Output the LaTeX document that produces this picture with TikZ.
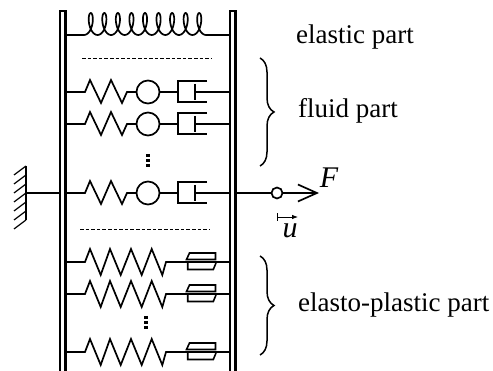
\documentclass[tikz,border=0pt]{standalone}
\usepackage{fontspec}
\setmainfont{Liberation Serif}
\usetikzlibrary{arrows.meta,decorations.pathreplacing}
\tikzset{
  label text/.style={anchor=west,inner sep=0pt,font=\fontsize{27}{27}\selectfont},
  symbol text/.style={inner sep=0pt,font=\fontsize{30}{30}\selectfont\itshape},
  part/.style={line width=1.7pt},
  bar/.style={line width=2.2pt},
  dash row/.style={line width=1.5pt,dash pattern=on 3.6pt off 2pt},
  dot col/.style={line width=3.2pt,dash pattern=on 3pt off 2pt},
  part brace/.style={line width=1.5pt,decorate,decoration={brace,amplitude=14pt}}
}
\begin{document}
\begin{tikzpicture}[x=1pt,y=-1pt]
  \useasboundingbox (0,0) rectangle (493,371);
  % walls of the frame
  \draw[bar] (60,371) -- (60,11) -- (65.5,11) -- (65.5,371);
  \draw[bar] (230,371) -- (230,11) -- (235.5,11) -- (235.5,371);
  % coil
  \draw[part] (66,35) -- (84,35)
      plot[domain=0:1,samples=260,smooth] ({84+\x*122+5*sin(\x*9*360)},{24+11*cos(\x*9*360)})
      -- (229,35);
  \draw[dash row] (82,58.5) -- (212,58.5);
  \draw[dash row] (80,229.5) -- (210,229.5);
  % viscous rows
  \foreach \r in {92,124,193}{
  \begin{scope}[shift={(0,\r)}]
    \draw[part] (66,0) -- (85,0) -- (90,-12) -- (101,11) -- (111,-12) -- (122,11) -- (127,0) -- (136.5,0);
    \draw[part] (148,0) circle (11.5);
    \draw[part] (159.5,0) -- (178,0);
    \draw[part] (207,-11) -- (178,-11) -- (178,10) -- (207,10);
    \draw[part] (195,-8) -- (195,8);
    \draw[part] (195,0) -- (229,0);
  \end{scope}
  }
  \draw[dot col] (148,154) -- (148,167);
  % plastic rows
  \foreach \r in {262,294,352}{
  \begin{scope}[shift={(0,\r)}]
    \draw[part] (66,0) -- (85,0) -- (90,-13) -- (100.7,13) -- (110,-13) -- (120.7,13) -- (131,-13)
        -- (141.7,13) -- (151.7,-13) -- (162.3,13) -- (166,0) -- (229,0);
    \draw[line width=1.6pt] (189.5,-9) -- (215.5,-9) -- (215.5,-2.5) -- (186.5,-2.5) -- cycle;
    \draw[line width=1.6pt] (187.7,1) -- (187.7,7.5) -- (213.3,7.5) -- (216,1);
  \end{scope}
  }
  \draw[dot col] (146,316) -- (146,329);
  % support
  \draw[part] (26,166) -- (26,220);
  \foreach \h in {166,175,...,220}
    \draw[line width=1.2pt] (26,\h) -- (14,\h+9);
  \draw[part] (26,193) -- (59,193);
  % load
  \coordinate (tip) at (319,193);
  \node[circle,draw,part,minimum size=11pt,inner sep=0pt] (hinge) at (277,193) {};
  \draw[part] (236.5,193) -- (hinge);
  \draw[part,-{Straight Barb[length=19pt,width=17pt]}] (hinge) -- (tip);
  \node[symbol text] (force) at (329,178) {F};
  \coordinate (ustart) at (277,217);
  \coordinate (uend) at (298,217);
  \draw[line width=.8pt,{Bar[width=8pt]}-{Latex[length=6pt,width=4.5pt]}] (ustart) -- (uend);
  \node[symbol text] (disp) at (290,231) {u};
  % braces
  \draw[part brace] (260,58) -- (260,166);
  \draw[part brace] (260,256) -- (260,355);
  \node[label text] (elastic) at (296,37) {elastic part};
  \node[label text] (fluid) at (298,111) {fluid part};
  \node[label text] (plastic) at (298,305) {elasto-plastic part};
\end{tikzpicture}
\end{document}
